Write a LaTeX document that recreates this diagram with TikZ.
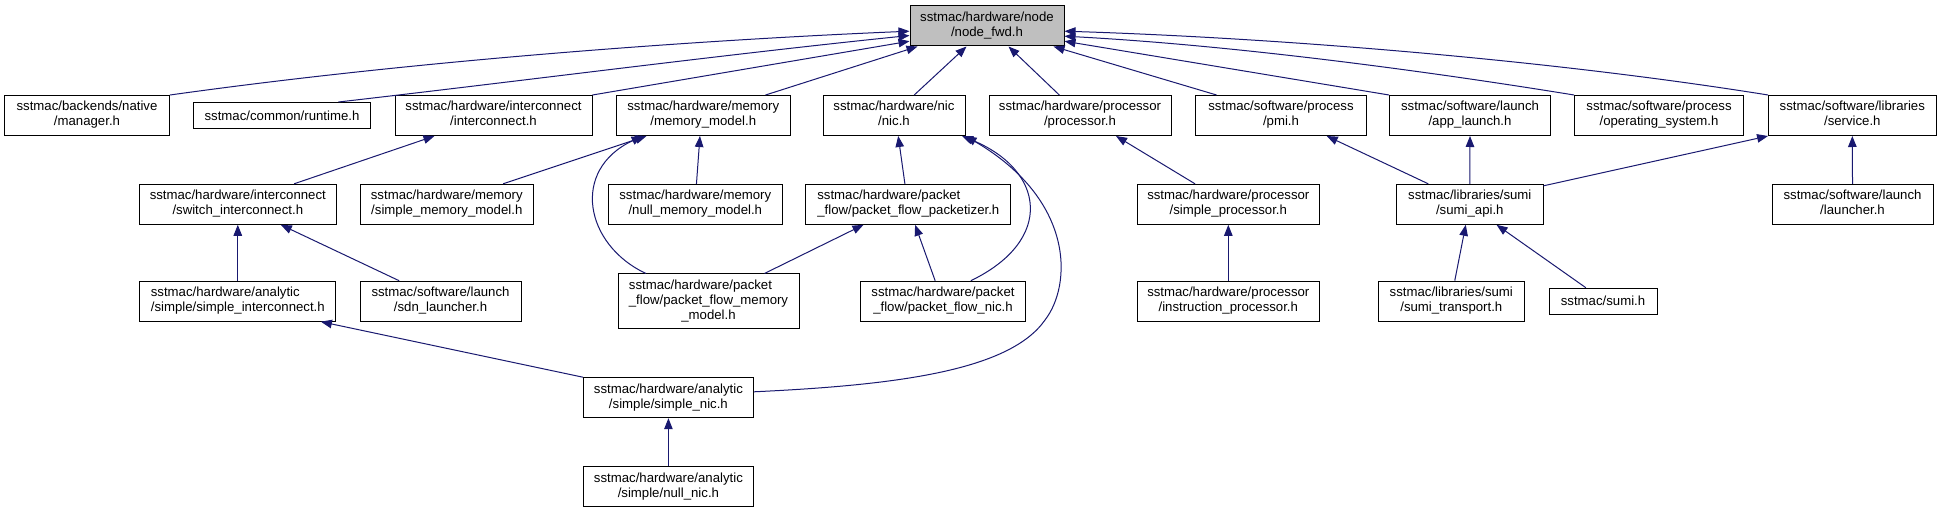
\documentclass[tikz,border=0pt]{standalone}
\usepackage{fontspec}
\setmainfont{Liberation Sans}
\usetikzlibrary{arrows.meta}
\definecolor{edgeblue}{RGB}{25,25,112}
\definecolor{fwdgray}{RGB}{191,191,191}
\newcommand{\dlab}[2]{\begin{tabular}{@{}l@{}}#1\\\multicolumn{1}{@{}c@{}}{#2}\end{tabular}}
\newcommand{\tlab}[3]{\begin{tabular}{@{}l@{}}#1\\#2\\\multicolumn{1}{@{}c@{}}{#3}\end{tabular}}
\begin{document}
\begin{tikzpicture}[x=1pt,y=-1pt,
  box/.style={draw=black, line width=1pt, fill=white, inner sep=0pt, font=\fontsize{13.2}{15}\selectfont, minimum height=40pt},
  onebox/.style={box, minimum height=26pt},
  edge/.style={draw=edgeblue, line width=1pt, -{Triangle[length=11pt,width=8.5pt]}}]
\fill[white] (0,0) rectangle (1942,513);
\useasboundingbox (0,0) rectangle (1942,513);
% row 0
\node[box, fill=fwdgray, minimum width=154pt] (fwd) at (987,26) {\dlab{sstmac/hardware/node}{/node\_fwd.h}};
% row 1
\node[box, minimum width=165pt] (manager) at (87,115.5) {\dlab{sstmac/backends/native}{/manager.h}};
\node[onebox, minimum width=177pt] (runtime) at (282,115.5) {sstmac/common/runtime.h};
\node[box, minimum width=197pt] (interconnect) at (493.5,115.5) {\dlab{sstmac/hardware/interconnect}{/interconnect.h}};
\node[box, minimum width=173.5pt] (memory) at (703.3,115.5) {\dlab{sstmac/hardware/memory}{/memory\_model.h}};
\node[box, minimum width=142pt] (nic) at (894,115.5) {\dlab{sstmac/hardware/nic}{/nic.h}};
\node[box, minimum width=182pt] (processor) at (1080,115.5) {\dlab{sstmac/hardware/processor}{/processor.h}};
\node[box, minimum width=171pt] (pmi) at (1281,115.5) {\dlab{sstmac/software/process}{/pmi.h}};
\node[box, minimum width=161pt] (applaunch) at (1470,115.5) {\dlab{sstmac/software/launch}{/app\_launch.h}};
\node[box, minimum width=169pt] (os) at (1659,115.5) {\dlab{sstmac/software/process}{/operating\_system.h}};
\node[box, minimum width=167.5pt] (service) at (1852.3,115.5) {\dlab{sstmac/software/libraries}{/service.h}};
% row 2
\node[box, minimum width=197.6pt] (switch) at (237.8,204.3) {\dlab{sstmac/hardware/interconnect}{/switch\_interconnect.h}};
\node[box, minimum width=173.5pt] (simplemem) at (446.8,204.3) {\dlab{sstmac/hardware/memory}{/simple\_memory\_model.h}};
\node[box, minimum width=173.5pt] (nullmem) at (695.3,204.3) {\dlab{sstmac/hardware/memory}{/null\_memory\_model.h}};
\node[box, minimum width=205pt] (packetizer) at (908.3,204.3) {\dlab{sstmac/hardware/packet}{\_flow/packet\_flow\_packetizer.h}};
\node[box, minimum width=182.6pt] (simpleproc) at (1228.3,204.3) {\dlab{sstmac/hardware/processor}{/simple\_processor.h}};
\node[box, minimum width=146.5pt] (sumiapi) at (1469.8,204.3) {\dlab{sstmac/libraries/sumi}{/sumi\_api.h}};
\node[box, minimum width=161pt] (launcher) at (1852.5,204.3) {\dlab{sstmac/software/launch}{/launcher.h}};
% row 3
\node[box, minimum width=196pt] (simpleic) at (237.8,301.2) {\dlab{sstmac/hardware/analytic}{/simple/simple\_interconnect.h}};
\node[box, minimum width=161pt] (sdn) at (440.5,301.2) {\dlab{sstmac/software/launch}{/sdn\_launcher.h}};
\node[box, minimum width=181pt, minimum height=54.5pt] (pfmm) at (708.5,301.2) {\tlab{sstmac/hardware/packet}{\_flow/packet\_flow\_memory}{\_model.h}};
\node[box, minimum width=164.7pt] (pfn) at (943,301.2) {\dlab{sstmac/hardware/packet}{\_flow/packet\_flow\_nic.h}};
\node[box, minimum width=182.6pt] (instrproc) at (1228.3,301.2) {\dlab{sstmac/hardware/processor}{/instruction\_processor.h}};
\node[box, minimum width=146.5pt] (sumitransport) at (1451.3,301.2) {\dlab{sstmac/libraries/sumi}{/sumi\_transport.h}};
\node[onebox, minimum width=108pt] (sumih) at (1603,301.2) {sstmac/sumi.h};
% row 4, 5
\node[box, minimum width=170pt] (simplenic) at (668.4,397.7) {\dlab{sstmac/hardware/analytic}{/simple/simple\_nic.h}};
\node[box, minimum width=170pt] (nullnic) at (668.4,486.7) {\dlab{sstmac/hardware/analytic}{/simple/null\_nic.h}};
% edges to node_fwd
\draw[edge] (manager.north east) .. controls (420,60) and (700,40) .. ([yshift=-25.7pt]fwd.north west);
\draw[edge] ([xshift=145.5pt]runtime.north west) .. controls (530,80) and (720,55) .. ([yshift=-30pt]fwd.north west);
\draw[edge] (interconnect.north east) -- ([yshift=-35.7pt]fwd.north west);
\draw[edge] ([xshift=149.5pt]memory.north west) -- ([xshift=8pt]fwd.south west);
\draw[edge] ([xshift=91.7pt]nic.north west) -- ([xshift=57pt]fwd.south west);
\draw[edge] ([xshift=70.8pt]processor.north west) -- ([xshift=99pt]fwd.south west);
\draw[edge] ([xshift=21.5pt]pmi.north west) -- ([xshift=144pt]fwd.south west);
\draw[edge] (applaunch.north west) -- ([yshift=-35.7pt]fwd.north east);
\draw[edge] (os.north west) .. controls (1420,70) and (1230,45) .. ([yshift=-30.7pt]fwd.north east);
\draw[edge] (service.north west) .. controls (1550,60) and (1280,38) .. ([yshift=-25.7pt]fwd.north east);
% second level
\draw[edge] ([xshift=155.6pt]switch.north west) -- ([xshift=40pt]interconnect.south west);
\draw[edge] ([xshift=143.6pt]simplemem.north west) -- ([xshift=30.5pt]memory.south west);
\draw[edge] ([xshift=28.4pt]pfmm.north west) .. controls (585,245) and (570,170) .. ([xshift=26.5pt]memory.south west);
\draw[edge] ([xshift=88.4pt]nullmem.north west) -- ([xshift=83.9pt]memory.south west);
\draw[edge] ([xshift=99.6pt]packetizer.north west) -- ([xshift=75.7pt]nic.south west);
\draw[edge] ([xshift=110.7pt]pfn.north west) .. controls (1055,240) and (1045,170) .. ([xshift=139.5pt]nic.south west);
\draw[edge] ([yshift=-14.6pt]simplenic.north east) .. controls (900,385) and (1010,370) .. (1045,320) .. controls (1072,285) and (1075,200) .. (nic.south east);
\draw[edge] ([xshift=147pt]pfmm.north west) -- ([xshift=58.2pt]packetizer.south west);
\draw[edge] ([xshift=75pt]pfn.north west) -- ([xshift=109.8pt]packetizer.south west);
\draw[edge] ([xshift=58.5pt]simpleproc.north west) -- ([xshift=127.5pt]processor.south west);
\draw[edge] (instrproc.north) -- (simpleproc.south);
\draw[edge] ([xshift=32.2pt]sumiapi.north west) -- ([xshift=131.7pt]pmi.south west);
\draw[edge] (sumiapi.north) -- (applaunch.south);
\draw[edge] ([yshift=-2pt]sumiapi.north east) -- (service.south west);
\draw[edge] (launcher.north) -- (service.south);
\draw[edge] ([xshift=77.2pt]sumitransport.north west) -- ([xshift=69.7pt]sumiapi.south west);
\draw[edge] ([xshift=37.3pt]sumih.north west) -- ([xshift=100.5pt]sumiapi.south west);
\draw[edge] (simpleic.north) -- (switch.south);
\draw[edge] ([xshift=39.6pt]sdn.north west) -- ([xshift=142.3pt]switch.south west);
\draw[edge] (simplenic.north west) -- ([xshift=181.6pt]simpleic.south west);
\draw[edge] (nullnic.north) -- (simplenic.south);
\end{tikzpicture}
\end{document}
